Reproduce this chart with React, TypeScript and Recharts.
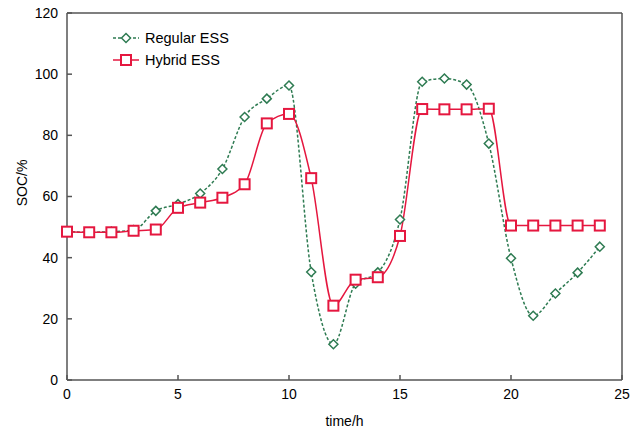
import React from "react";
import { LineChart, Line, XAxis, YAxis, ReferenceLine } from "recharts";

// hourly state of charge
const hours = [0, 1, 2, 3, 4, 5, 6, 7, 8, 9, 10, 11, 12, 13, 14, 15, 16, 17, 18, 19, 20, 21, 22, 23, 24];
const regularEss = [48.5, 48.3, 48.5, 49, 55.3, 57.5, 61, 69, 86, 92, 96.3, 35.3, 11.7, 31.5, 35.2, 52.5, 97.5, 98.6, 96.6, 77.3, 39.8, 21, 28.3, 35.1, 43.6];
const hybridEss = [48.5, 48.3, 48.3, 48.8, 49.2, 56.3, 58, 59.6, 64, 83.9, 87, 66, 24.3, 32.8, 33.6, 47.1, 88.6, 88.5, 88.5, 88.7, 50.5, 50.5, 50.5, 50.5, 50.5];
const xTicks = [0, 5, 10, 15, 20, 25];
const yTicks = [0, 20, 40, 60, 80, 100, 120];

const data = hours.map((h, i) => ({ time: h, regular: regularEss[i], hybrid: hybridEss[i] }));

const GREEN = "#2e7b52";
const RED = "#e5173f";
const AXIS = "#555555";
const FONT = "'Liberation Sans', Arial, sans-serif";

const Diamond = (props: any) => {
  const { cx, cy, key } = props;
  if (cx == null || cy == null) return null;
  const r = 4.5;
  return (
    <path
      key={key}
      d={`M${cx},${cy - r}L${cx + r},${cy}L${cx},${cy + r}L${cx - r},${cy}Z`}
      fill="#fff"
      stroke={GREEN}
      strokeWidth={1.5}
    />
  );
};

const Square = (props: any) => {
  const { cx, cy, key } = props;
  if (cx == null || cy == null) return null;
  const s = 10;
  return (
    <rect key={key} x={cx - s / 2} y={cy - s / 2} width={s} height={s} fill="#fff" stroke={RED} strokeWidth={2} />
  );
};

// legend sits inside the plot, top-left
const LegendBox = () => (
  <svg
    width={160}
    height={50}
    style={{ position: "absolute", left: 108, top: 28, overflow: "visible" }}
  >
    <line x1={5} y1={10} x2={31} y2={10} stroke={GREEN} strokeWidth={1.5} strokeDasharray="3 2" />
    <Diamond cx={18} cy={10} />
    <text x={37} y={15} fontSize={14.5} fontFamily={FONT} fill="#000">
      Regular ESS
    </text>
    <line x1={5} y1={32} x2={31} y2={32} stroke={RED} strokeWidth={1.5} />
    <Square cx={18} cy={32} />
    <text x={37} y={37} fontSize={14.5} fontFamily={FONT} fill="#000">
      Hybrid ESS
    </text>
  </svg>
);

const tickStyle = { fontSize: 14, fontFamily: FONT, fill: "#000" };

const App = () => (
  <div style={{ position: "absolute", left: 0, top: 0, width: 644, height: 430, background: "#fff" }}>
    <LineChart width={644} height={430} data={data} margin={{ top: 13, right: 22, left: 0, bottom: 0 }}>
      <XAxis
        dataKey="time"
        type="number"
        domain={[0, 25]}
        ticks={xTicks}
        interval={0}
        height={50}
        stroke={AXIS}
        strokeWidth={1.5}
        tickSize={-5}
        tickMargin={14}
        tick={tickStyle}
        label={{
          content: () => (
            <text x={344.5} y={426} textAnchor="middle" fontSize={14} fontFamily={FONT} fill="#000">
              time/h
            </text>
          ),
        }}
      />
      <YAxis
        type="number"
        domain={[0, 120]}
        ticks={yTicks}
        interval={0}
        width={67}
        stroke={AXIS}
        strokeWidth={1.5}
        tickSize={-5}
        tickMargin={14}
        tick={tickStyle}
        label={{
          content: () => (
            <text
              x={22}
              y={183}
              transform="rotate(-90 22 183)"
              textAnchor="middle"
              dominantBaseline="central"
              fontSize={14}
              fontFamily={FONT}
              fill="#000"
            >
              SOC/%
            </text>
          ),
        }}
      />
      <ReferenceLine y={120} stroke={AXIS} strokeWidth={1.5} />
      <ReferenceLine x={25} stroke={AXIS} strokeWidth={1.5} />
      <Line
        type="monotone"
        dataKey="regular"
        stroke={GREEN}
        strokeWidth={1.5}
        strokeDasharray="3 2"
        dot={<Diamond />}
        activeDot={false}
        isAnimationActive={false}
      />
      <Line
        type="monotone"
        dataKey="hybrid"
        stroke={RED}
        strokeWidth={1.5}
        dot={<Square />}
        activeDot={false}
        isAnimationActive={false}
      />
    </LineChart>
    <LegendBox />
  </div>
);

export default App;
